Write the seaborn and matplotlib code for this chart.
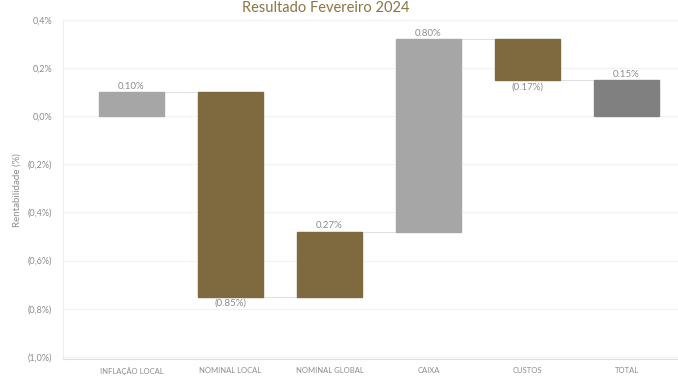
import matplotlib
matplotlib.use("Agg")
import matplotlib.pyplot as plt
import seaborn as sns
import numpy as np
import pandas as pd

categories = ["INFLAÇÃO LOCAL", "NOMINAL LOCAL", "NOMINAL GLOBAL", "CAIXA", "CUSTOS", "TOTAL"]
values = [0.10, -0.85, 0.27, 0.80, -0.17, 0.15]
labels = ["0.10%", "(0.85%)", "0.27%", "0.80%", "(0.17%)", "0.15%"]
bar_colors = ["#A6A6A6", "#7F6A3F", "#7F6A3F", "#A6A6A6", "#7F6A3F", "#808080"]
yticks = [0.4, 0.2, 0.0, -0.2, -0.4, -0.6, -0.8, -1.0]
yticklabels = ["0,4%", "0,2%", "0,0%", "(0,2%)", "(0,4%)", "(0,6%)", "(0,8%)", "(1,0%)"]

# waterfall bottoms
vals = np.array(values)
cum = np.concatenate([[0], np.cumsum(vals[:-1])])
bottoms = cum.copy()
bottoms[-1] = 0.0
heights = vals.copy()
tops = bottoms + heights

df = pd.DataFrame({"cat": categories, "h": heights})

sns.set_theme(style="white")
plt.rcParams["font.family"] = ["Lato", "DejaVu Sans"]

fig = plt.figure(figsize=(6.78, 3.80), dpi=100)
ax = fig.add_axes([0.093, 0.055, 0.907, 0.892])

sns.barplot(data=df, x="cat", y="h", color="#A6A6A6", errorbar=None,
            bottom=bottoms, width=0.66, ax=ax, saturation=1, zorder=3)
for p, c in zip(ax.patches, bar_colors):
    p.set_facecolor(c)
    p.set_edgecolor(c)

ax.set_xlim(-0.69, 5.52)
ax.set_ylim(-1.01, 0.40)
ax.set_yticks(yticks)
ax.set_yticklabels(yticklabels, fontsize=6.5, color="#8C8C8C")
ax.tick_params(axis="x", labelsize=5.5, colors="#8C8C8C", length=0, pad=6)
ax.tick_params(axis="y", length=0, pad=8)
ax.set_xlabel("")
ax.set_ylabel("Rentabilidade (%)", fontsize=7, color="#8C8C8C", labelpad=4)
ax.grid(axis="y", color="#F2F2F2", linewidth=0.8, zorder=0)
ax.set_axisbelow(True)

for s in ["top", "right"]:
    ax.spines[s].set_visible(False)
ax.spines["left"].set_color("#EEEEEE")
ax.spines["bottom"].set_color("#DDDDDD")
ax.spines["left"].set_linewidth(0.8)
ax.spines["bottom"].set_linewidth(0.8)

# connectors
w = 0.33
for i in range(len(values) - 1):
    level = tops[i]
    ax.plot([i + w, i + 1 - w], [level, level], color="#E0E0E0", linewidth=0.8, zorder=2)

# data labels
for i, (v, lab) in enumerate(zip(values, labels)):
    hi = max(bottoms[i], tops[i])
    lo = min(bottoms[i], tops[i])
    if v >= 0:
        ax.text(i, hi + 0.005, lab, ha="center", va="bottom", fontsize=7, color="#8C8C8C")
    else:
        ax.text(i, lo - 0.008, lab, ha="center", va="top", fontsize=7, color="#8C8C8C")

fig.text(0.48, 0.998, "Resultado Fevereiro 2024", ha="center", va="top",
         fontsize=10.5, color="#8B7440")

fig.savefig("out.png", dpi=100)
